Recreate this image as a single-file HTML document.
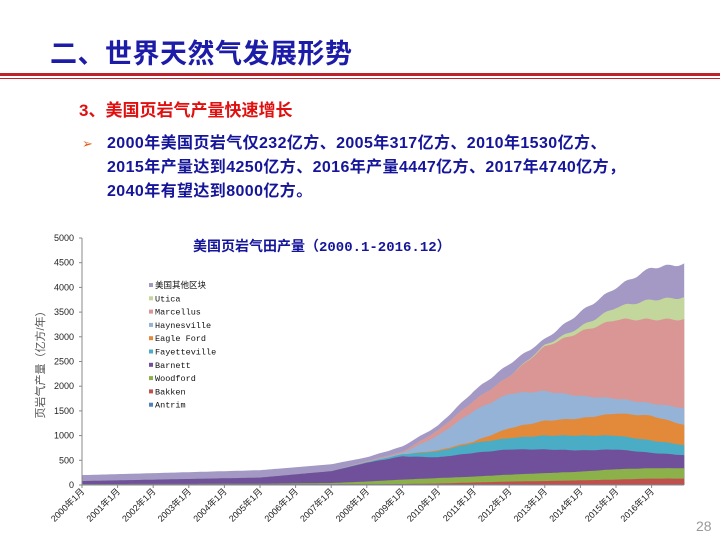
<!DOCTYPE html>
<html><head><meta charset="utf-8"><style>
body{margin:0;width:720px;height:540px;background:#fff;position:relative;overflow:hidden;font-family:"Liberation Sans","Noto Sans CJK SC",sans-serif}
.t{position:absolute;white-space:nowrap}
</style></head><body>
<div class="t" style="left:50px;top:32px;font-size:27px;font-weight:bold;color:#1c1ca8;letter-spacing:0.5px">二、世界天然气发展形势</div>
<div style="position:absolute;left:0;top:73px;width:720px;height:3px;background:#c0202a"></div>
<div style="position:absolute;left:0;top:78px;width:720px;height:1px;background:#c0202a"></div>
<div class="t" style="left:79px;top:96px;font-size:17px;font-weight:bold;color:#e01010">3、美国页岩气产量快速增长</div>
<div class="t" style="left:82px;top:136px;font-size:13px;color:#e06020">➢</div>
<div class="t" style="left:107px;top:132px;font-size:16px;font-weight:bold;color:#15159a;line-height:24px;letter-spacing:0.4px">2000年美国页岩气仅232亿方、2005年317亿方、2010年1530亿方、<br>2015年产量达到4250亿方、2016年产量4447亿方、2017年4740亿方，<br>2040年有望达到8000亿方。</div>
<svg id="c" width="720" height="540" style="position:absolute;left:0;top:0" font-family="Liberation Sans, Noto Sans CJK SC, sans-serif"></svg>
<script>
var s=document.getElementById('c'),h='';
function X(t){return 82+t*35.6}function Y(v){return 485-v*0.0494}
var T=[0,5,7,8,9,10,11,12,13,14,15,16,17];
var L=[
['#4f81bd',[15,15,15,15,15,15,15,15,12,12,12,12,12]],
['#c0504d',[15,15,15,15,20,30,50,70,80,95,110,130,130]],
['#8cb04a',[20,25,40,70,110,140,170,210,240,270,320,340,340]],
['#70509a',[80,150,280,450,580,560,650,720,720,700,720,650,600]],
['#4bacc6',[80,150,280,460,620,680,850,950,1000,1000,1000,900,800]],
['#e3893a',[80,150,280,460,620,700,880,1150,1300,1350,1450,1400,1200]],
['#95b3d7',[80,150,280,470,650,1000,1500,1850,1900,1800,1750,1650,1550]],
['#d99694',[80,150,280,480,670,1100,1700,2200,2800,3100,3350,3350,3350]],
['#c3d69b',[80,150,280,480,670,1100,1700,2200,2830,3200,3600,3750,3800]],
['#a399c4',[200,300,420,560,780,1200,1900,2450,2950,3500,4000,4400,4480]]];
function val(a,t){for(var i=0;i<T.length-1;i++)if(t<=T[i+1]){var f=(t-T[i])/(T[i+1]-T[i]);return a[i]+f*(a[i+1]-a[i]);}return a[a.length-1]}
var tE=16.92;
for(var k=L.length-1;k>=0;k--){var p='M'+X(0)+','+Y(0);for(var m=0;m<=203;m++){var t=m/12;if(t>tE)t=tE;var v=val(L[k][1],t);if(t>8)v*=1+0.006*Math.sin(m*0.9);p+=' L'+X(t).toFixed(1)+','+Y(v).toFixed(1);}p+=' L'+X(tE)+','+Y(0)+'Z';h+='<path d="'+p+'" fill="'+L[k][0]+'"/>';}
h+='<line x1="82" y1="238" x2="82" y2="485" stroke="#888"/><line x1="82" y1="485" x2="684" y2="485" stroke="#888"/>';
for(var i=0;i<=10;i++){var y=Y(i*500);h+='<line x1="79" y1="'+y+'" x2="82" y2="'+y+'" stroke="#888"/><text x="74" y="'+(y+3)+'" font-size="9" text-anchor="end" fill="#222">'+(i*500)+'</text>';}
for(var i=0;i<=16;i++){var x=X(i);h+='<line x1="'+x+'" y1="485" x2="'+x+'" y2="488" stroke="#888"/><text transform="translate('+(x+3)+',492) rotate(-45)" font-size="9" text-anchor="end" fill="#222">'+(2000+i)+'年1月</text>';}
h+='<text transform="translate(44,362) rotate(-90)" font-size="11" text-anchor="middle" fill="#555">页岩气产量（亿方/年）</text>';
h+='<text x="193" y="251" font-size="14" font-weight="bold" fill="#15159a" font-family="Liberation Mono, Noto Sans CJK SC, monospace">美国页岩气田产量（2000.1-2016.12）</text>';
var names=['美国其他区块','Utica','Marcellus','Haynesville','Eagle Ford','Fayetteville','Barnett','Woodford','Bakken','Antrim'];
for(var i=0;i<10;i++){var y=287+i*13.3;h+='<rect x="149" y="'+(y-4)+'" width="4" height="4" fill="'+L[9-i][0]+'"/><text x="155" y="'+(y+1)+'" font-size="8.5" font-family="Liberation Mono, Noto Sans CJK SC, monospace" fill="#111">'+names[i]+'</text>';}
h+='<text x="696" y="531" font-size="14" fill="#999">28</text>';
s.innerHTML=h;
</script>
</body></html>
